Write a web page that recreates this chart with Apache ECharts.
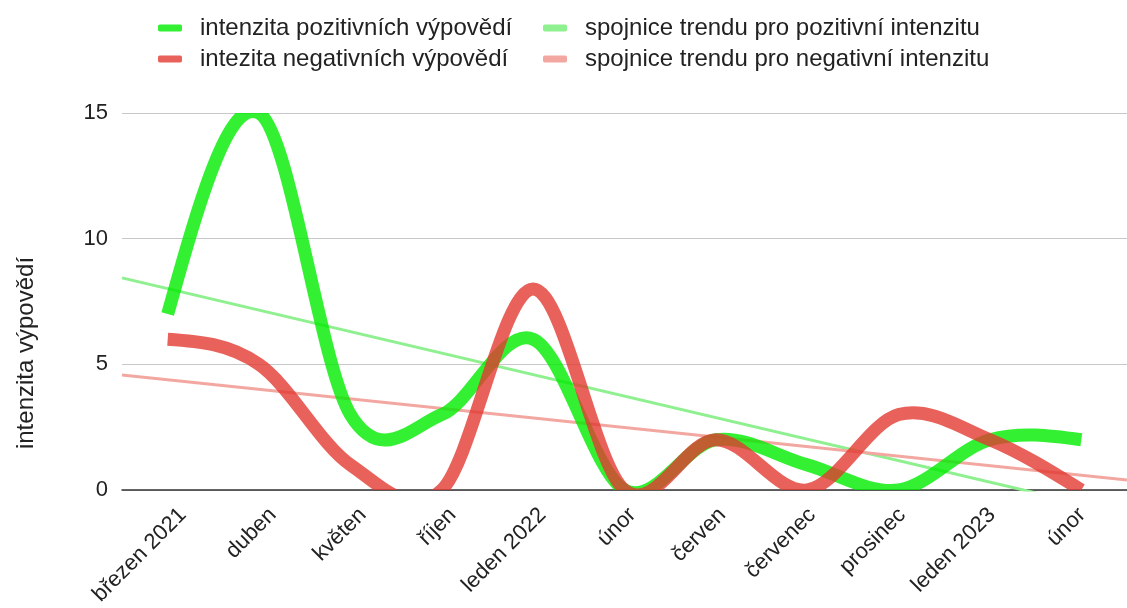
<!DOCTYPE html>
<html>
<head>
<meta charset="utf-8">
<script src="https://cdn.jsdelivr.net/npm/echarts@6/dist/echarts.min.js"></script>
<style>html,body{margin:0;padding:0;background:#fff}#c{width:1127px;height:608px}</style>
</head>
<body>
<div id="c"></div>
<script>
const categories = ['březen 2021','duben','květen','říjen','leden 2022','únor','červen','červenec','prosinec','leden 2023','únor'];
const positiveValues = [7, 15, 3, 3, 6, 0, 2, 1, 0, 2, 2];
const negativeValues = [6, 5, 1, 0, 8, 0, 2, 0, 3, 2, 0];
// trend lines read at the left and right plot edges (category index -0.5 and 10.5)
const trendX = [-0.5, 10.5];
const positiveTrend = [8.44, -0.97];
const negativeTrend = [4.58, 0.40];
const yTicks = [0, 5, 10, 15];

const names = {
  pos: 'intenzita pozitivních výpovědí',
  neg: 'intezita negativních výpovědí',
  posT: 'spojnice trendu pro pozitivní intenzitu',
  negT: 'spojnice trendu pro negativní intenzitu'
};
const colors = {
  pos: 'rgba(0,236,0,0.8)',
  neg: 'rgba(226,57,49,0.8)',
  posLegend: '#33f033',
  negLegend: '#e8615a',
  posT: '#8ff08f',
  negT: '#f3a7a1'
};
const FONT = 'Liberation Sans, Arial, sans-serif';

function legendAt(name, left, top) {
  return {
    data: [{name: name, icon: 'roundRect'}],
    left: left, top: top, padding: 0,
    itemWidth: 24, itemHeight: 7,
    textStyle: {fontFamily: FONT, fontSize: 24, color: '#222', padding: [0, 0, 0, 13], lineHeight: 24},
    selectedMode: false
  };
}

// Smooth curve through the data points (cardinal spline, natural ends),
// positioned via the chart's own coordinate system.
function splineRenderer(values, stroke) {
  return function (params, api) {
    if (params.dataIndex !== 0) return null;
    const P = values.map((v, i) => api.coord([i, v]));
    const n = P.length;
    const M = P.map((p, i) => {
      if (i === 0 || i === n - 1) return null;
      return [(P[i + 1][0] - P[i - 1][0]) / 2, (P[i + 1][1] - P[i - 1][1]) / 2];
    });
    M[0] = [(3 * (P[1][0] - P[0][0]) - M[1][0]) / 2, (3 * (P[1][1] - P[0][1]) - M[1][1]) / 2];
    M[n - 1] = [(3 * (P[n - 1][0] - P[n - 2][0]) - M[n - 2][0]) / 2,
                (3 * (P[n - 1][1] - P[n - 2][1]) - M[n - 2][1]) / 2];
    let d = 'M' + P[0][0] + ' ' + P[0][1];
    for (let i = 0; i < n - 1; i++) {
      const c1 = [P[i][0] + M[i][0] / 3, P[i][1] + M[i][1] / 3];
      const c2 = [P[i + 1][0] - M[i + 1][0] / 3, P[i + 1][1] - M[i + 1][1] / 3];
      d += ' C' + c1[0] + ' ' + c1[1] + ' ' + c2[0] + ' ' + c2[1] + ' ' + P[i + 1][0] + ' ' + P[i + 1][1];
    }
    const cs = params.coordSys;
    return {
      type: 'path',
      shape: {pathData: d},
      style: {stroke: stroke, fill: null, lineWidth: 13, lineCap: 'butt', lineJoin: 'round'},
      clipPath: {type: 'rect', shape: {x: cs.x, y: cs.y, width: cs.width, height: cs.height}}
    };
  };
}

const chart = echarts.init(document.getElementById('c'), null, {renderer: 'canvas'});
chart.setOption({
  animation: false,
  legend: [
    legendAt(names.pos, 158, 16),
    legendAt(names.neg, 158, 47),
    legendAt(names.posT, 543, 16),
    legendAt(names.negT, 543, 47)
  ],
  grid: [
    {left: 122, right: 0, top: 113, bottom: 118, containLabel: false},
    {left: 138, right: -16, top: 113, bottom: 118, containLabel: false}
  ],
  xAxis: [
    {
      type: 'category', data: categories, boundaryGap: true, gridIndex: 0,
      axisLine: {show: true, lineStyle: {color: '#333', width: 1.5}},
      axisTick: {show: false},
      axisLabel: {show: false}
    },
    {
      type: 'value', min: trendX[0], max: trendX[1], show: false, gridIndex: 0
    },
    {
      type: 'category', data: categories, boundaryGap: true, gridIndex: 1,
      axisLine: {show: false}, axisTick: {show: false},
      axisLabel: {rotate: 45, interval: 0, fontFamily: FONT, fontSize: 22, color: '#222', margin: 35}
    }
  ],
  yAxis: [
    {
      type: 'value', min: yTicks[0], max: yTicks[yTicks.length - 1], interval: 5, gridIndex: 0,
      axisLine: {show: false}, axisTick: {show: false},
      splitLine: {lineStyle: {color: '#c8c8c8', width: 1.2}},
      axisLabel: {fontFamily: FONT, fontSize: 22, color: '#222', margin: 14}
    },
    {
      type: 'value', min: yTicks[0], max: yTicks[yTicks.length - 1], gridIndex: 1, show: false
    }
  ],
  graphic: [{
    type: 'text', x: 26, y: 353, rotation: Math.PI / 2,
    style: {text: 'intenzita výpovědí', font: '24px ' + FONT, fill: '#222', textAlign: 'center', textVerticalAlign: 'middle'}
  }],
  series: [
    {
      name: names.posT, type: 'line', xAxisIndex: 1, yAxisIndex: 0, symbol: 'none', z: 1,
      data: trendX.map((x, i) => [x, positiveTrend[i]]),
      lineStyle: {color: colors.posT, width: 3}, itemStyle: {color: colors.posT}
    },
    {
      name: names.negT, type: 'line', xAxisIndex: 1, yAxisIndex: 0, symbol: 'none', z: 1,
      data: trendX.map((x, i) => [x, negativeTrend[i]]),
      lineStyle: {color: colors.negT, width: 3}, itemStyle: {color: colors.negT}
    },
    {
      name: names.pos, type: 'custom', xAxisIndex: 0, yAxisIndex: 0, z: 3,
      data: positiveValues.map((v, i) => [i, v]),
      encode: {x: 0, y: 1},
      renderItem: splineRenderer(positiveValues, colors.pos),
      itemStyle: {color: colors.posLegend}
    },
    {
      name: names.neg, type: 'custom', xAxisIndex: 0, yAxisIndex: 0, z: 4,
      data: negativeValues.map((v, i) => [i, v]),
      encode: {x: 0, y: 1},
      renderItem: splineRenderer(negativeValues, colors.neg),
      itemStyle: {color: colors.negLegend}
    }
  ]
});
</script>
</body>
</html>
